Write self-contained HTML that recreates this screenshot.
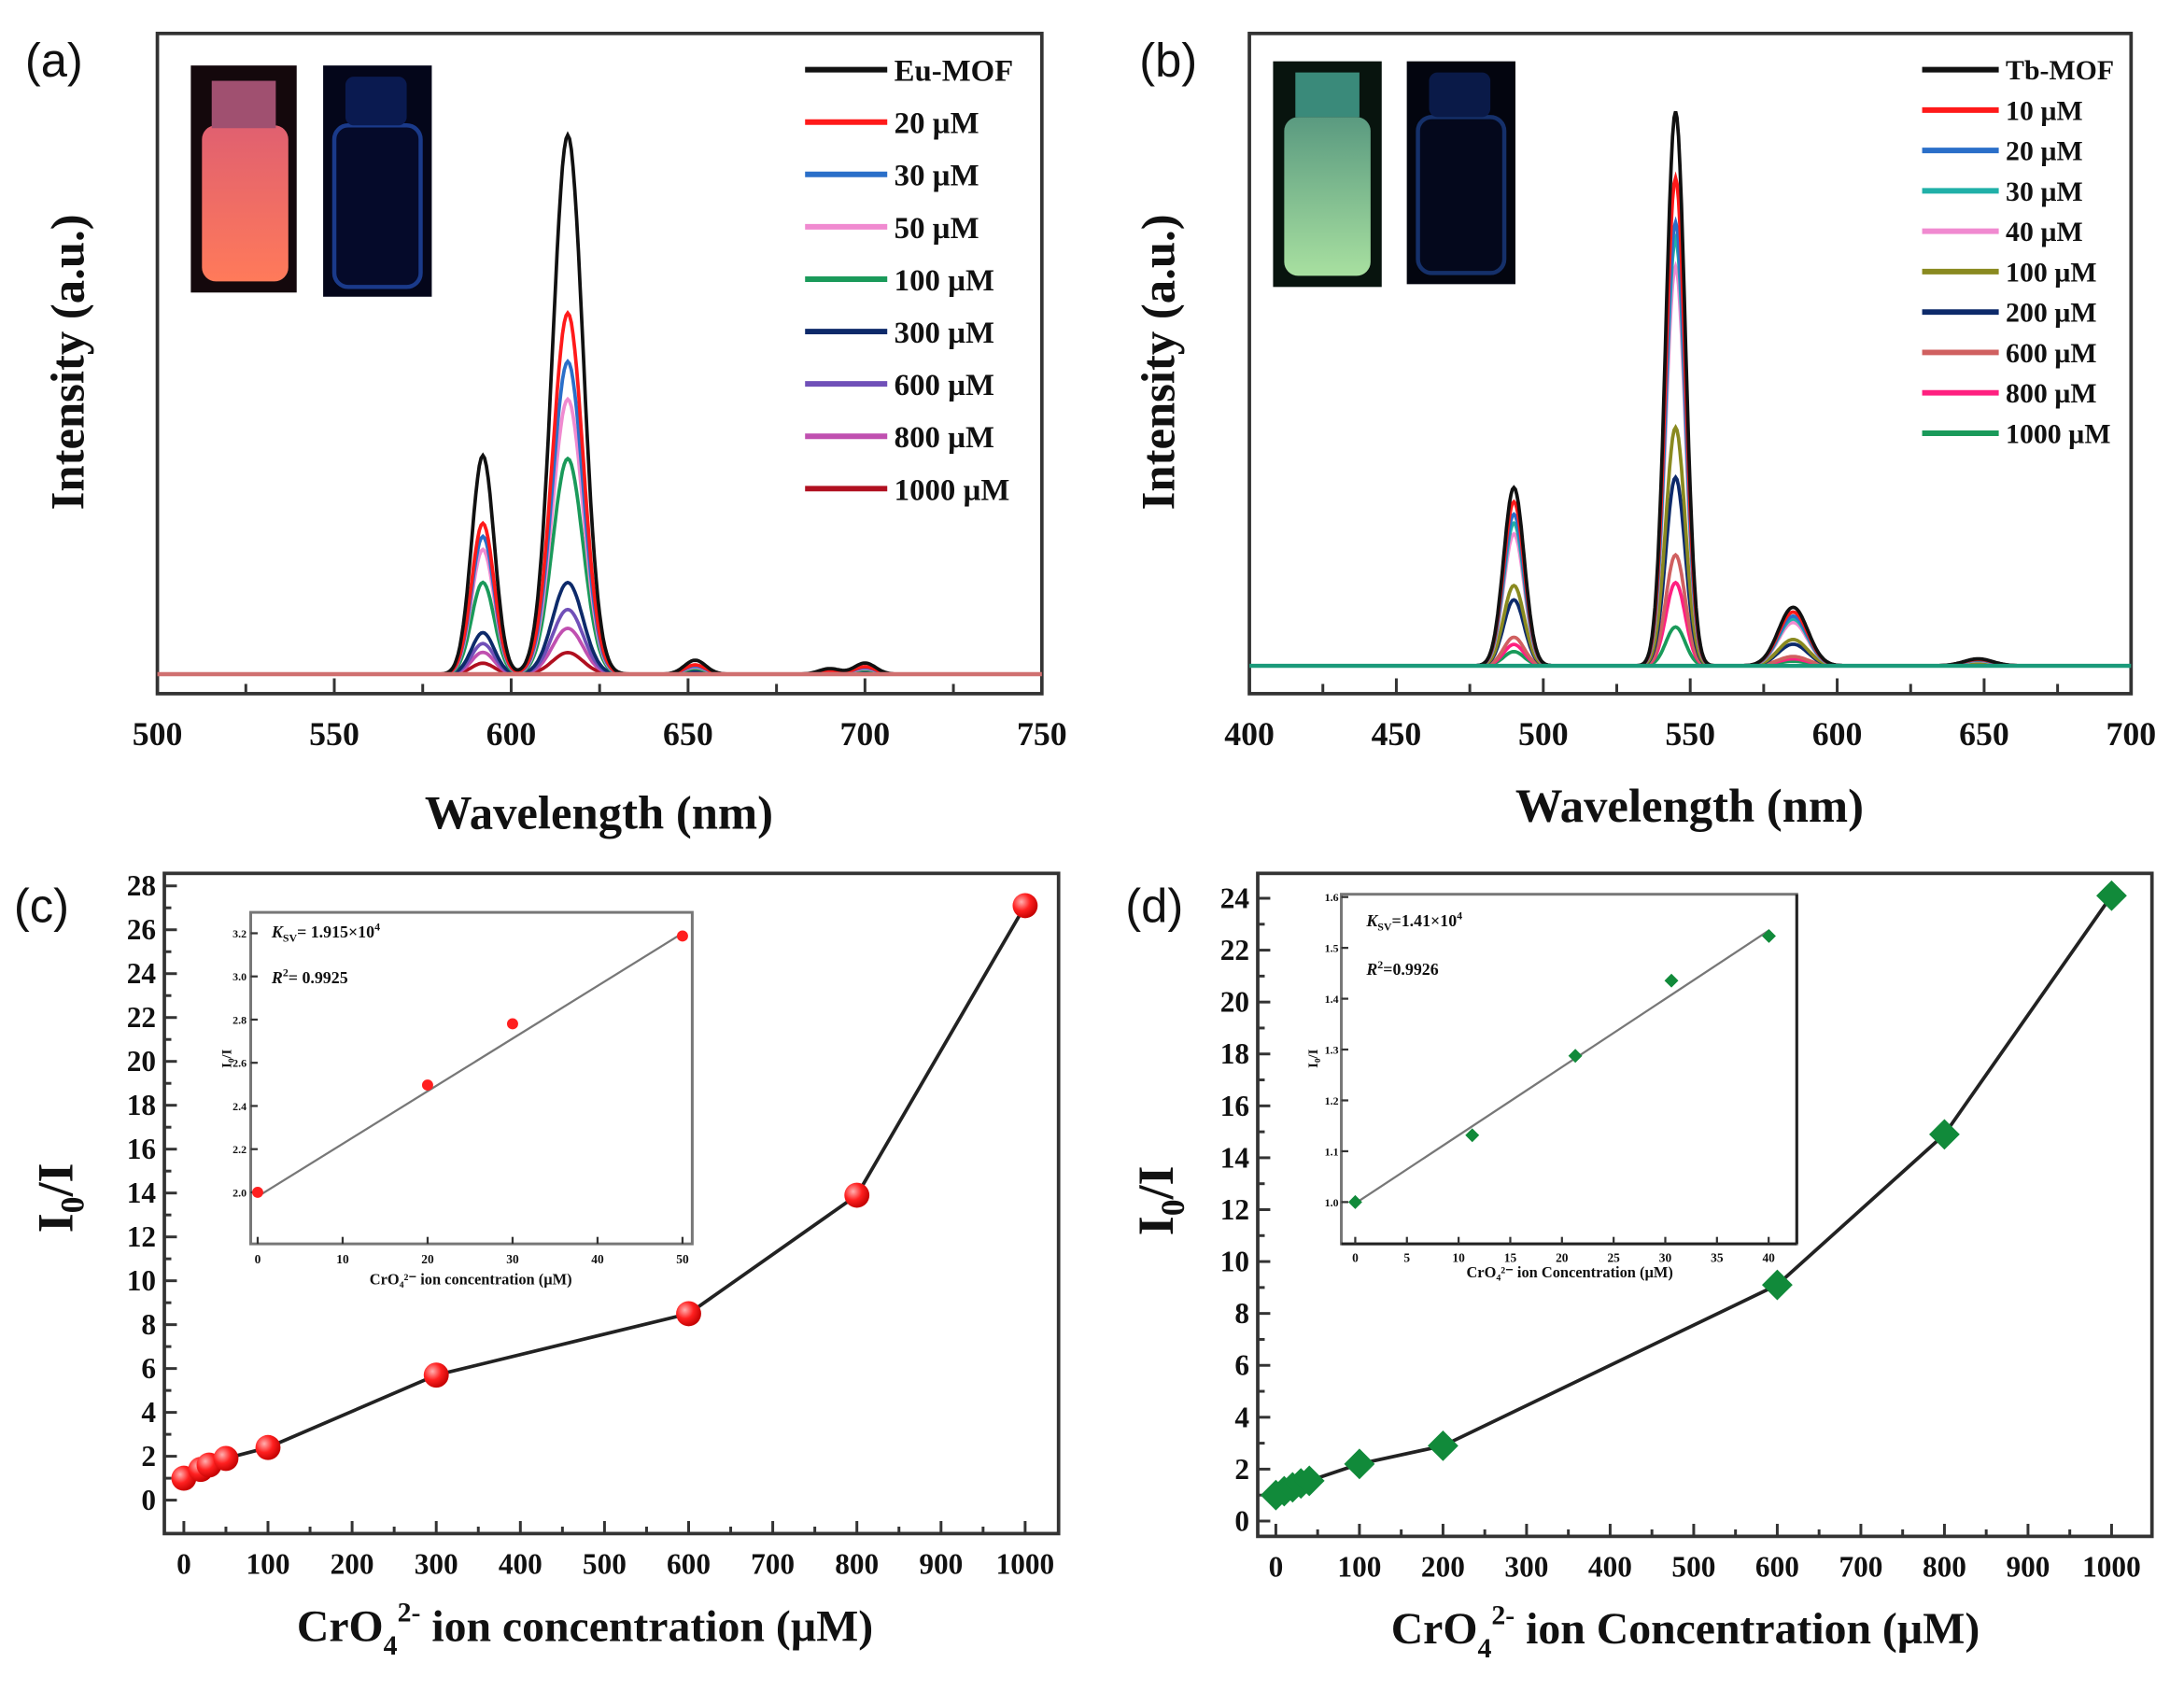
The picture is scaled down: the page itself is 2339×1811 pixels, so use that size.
<!DOCTYPE html>
<html><head><meta charset="utf-8"><style>
html,body{margin:0;padding:0;background:#fff;}
svg{display:block;}
text{font-family:"Liberation Serif",serif;font-weight:bold;fill:#111;}
.pl{font-family:"Liberation Sans",sans-serif;font-weight:normal;}
</style></head><body>
<svg id="s" width="2339" height="1811" viewBox="0 0 1568 1214" xmlns="http://www.w3.org/2000/svg">
<defs>
<radialGradient id="rb" cx="0.35" cy="0.35" r="0.7"><stop offset="0" stop-color="#ffb0b0"/><stop offset="0.5" stop-color="#ff2020"/><stop offset="1" stop-color="#c00000"/></radialGradient>
<linearGradient id="orb" x1="0" y1="0" x2="0" y2="1"><stop offset="0" stop-color="#e06070"/><stop offset="1" stop-color="#ff7a5a"/></linearGradient>
<linearGradient id="grb" x1="0" y1="0" x2="0" y2="1"><stop offset="0" stop-color="#5a9a80"/><stop offset="1" stop-color="#a8e0a0"/></linearGradient>
</defs>
<!-- Panel a -->
<text class="pl" x="18" y="55" font-size="34">(a)</text>
<rect x="113" y="24" width="635" height="474" fill="none" stroke="#333" stroke-width="2.5"/>
<rect x="137" y="47" width="76" height="163" fill="#14080c"/>
<rect x="145" y="90" width="62" height="112" rx="10" fill="url(#orb)"/>
<rect x="152" y="58" width="46" height="34" fill="#a05070"/>
<rect x="232" y="47" width="78" height="166" fill="#04061a"/>
<rect x="240" y="90" width="62" height="116" rx="10" fill="#050a2a" stroke="#1a3a8a" stroke-width="3"/>
<rect x="248" y="55" width="44" height="35" rx="6" fill="#0a1a50"/>
<g id="ga"></g>
<g id="la"></g>
<text x="60" y="260" font-size="34" text-anchor="middle" transform="rotate(-90 60 260)">Intensity (a.u.)</text>
<text x="430" y="595" font-size="34" text-anchor="middle">Wavelength (nm)</text>
<!-- Panel b -->
<text class="pl" x="818" y="55" font-size="34">(b)</text>
<rect x="897" y="24" width="633" height="474" fill="none" stroke="#333" stroke-width="2.5"/>
<rect x="914" y="44" width="78" height="162" fill="#08140e"/>
<rect x="922" y="84" width="62" height="114" rx="10" fill="url(#grb)"/>
<rect x="930" y="52" width="46" height="32" fill="#3a8a7a"/>
<rect x="1010" y="44" width="78" height="160" fill="#03050f"/>
<rect x="1018" y="84" width="62" height="112" rx="10" fill="#04081c" stroke="#15306a" stroke-width="3"/>
<rect x="1026" y="52" width="44" height="32" rx="6" fill="#0a1a48"/>
<g id="gb"></g>
<g id="lb"></g>
<text x="843" y="260" font-size="34" text-anchor="middle" transform="rotate(-90 843 260)">Intensity (a.u.)</text>
<text x="1213" y="590" font-size="34" text-anchor="middle">Wavelength (nm)</text>
<!-- Panel c -->
<text class="pl" x="10" y="662" font-size="34">(c)</text>
<rect x="118" y="627" width="642" height="474" fill="none" stroke="#333" stroke-width="2.5"/>
<g id="gc"></g>
<text x="52" y="860" font-size="36" text-anchor="middle" transform="rotate(-90 52 860)">I<tspan font-size="24" dy="8">0</tspan><tspan dy="-8">/I</tspan></text>
<text x="420" y="1178" font-size="32" text-anchor="middle">CrO<tspan font-size="20" dy="10">4</tspan><tspan font-size="20" dy="-24">2-</tspan><tspan dy="14"> ion concentration (µM)</tspan></text>
<!-- Panel d -->
<text class="pl" x="808" y="662" font-size="34">(d)</text>
<rect x="903" y="627" width="642" height="476" fill="none" stroke="#333" stroke-width="2.5"/>
<g id="gd"></g>
<text x="842" y="862" font-size="36" text-anchor="middle" transform="rotate(-90 842 862)">I<tspan font-size="24" dy="8">0</tspan><tspan dy="-8">/I</tspan></text>
<text x="1210" y="1180" font-size="32" text-anchor="middle">CrO<tspan font-size="20" dy="10">4</tspan><tspan font-size="20" dy="-24">2-</tspan><tspan dy="14"> ion Concentration (µM)</tspan></text>
</svg>
<script>
var NS="http://www.w3.org/2000/svg";
function el(p,t,a,txt){var e=document.createElementNS(NS,t);for(var k in a)e.setAttribute(k,a[k]);if(txt!==undefined)e.textContent=txt;p.appendChild(e);return e;}
function G(id){return document.getElementById(id);}
function g(x,m,s){return Math.exp(-(x-m)*(x-m)/(2*s*s));}
// Panel a
(function(){
var ga=G("ga"),la=G("la");
var X=function(n){return 113+(n-500)*127/50;},B=484;
var ser=[["#111",1,1,"Eu-MOF"],["#ff1a1a",0.67,0.69,"20 µM"],["#2a6fc9",0.58,0.63,"30 µM"],["#f08ad0",0.51,0.57,"50 µM"],["#1a9a5a",0.40,0.42,"100 µM"],["#0d2a6a",0.17,0.19,"300 µM"],["#7050b8",0.12,0.14,"600 µM"],["#c050b0",0.085,0.10,"800 µM"],["#b01020",0.04,0.05,"1000 µM"]];
for(var i=ser.length-1;i>=0;i--){var s=ser[i],d="";
for(var n=500;n<=750;n+=0.5){var y=B-(387*s[1]*g(n,616,4.3)+157*s[2]*g(n,592,3.2)+10*s[1]*g(n,652,3)+4*s[1]*g(n,690,3)+8*s[1]*g(n,700,3));d+=(n==500?"M":"L")+X(n).toFixed(1)+" "+y.toFixed(1);}
el(ga,"path",{d:d,fill:"none",stroke:s[0],"stroke-width":2.5});}
el(ga,"line",{x1:113,y1:B,x2:748,y2:B,stroke:"#d07070","stroke-width":3});
for(var i=0;i<ser.length;i++){var y=50+i*37.6;el(la,"line",{x1:578,y1:y,x2:637,y2:y,stroke:ser[i][0],"stroke-width":4});el(la,"text",{x:642,y:y+8,"font-size":22},ser[i][3]);}
for(var n=500;n<=750;n+=25){var x=X(n);el(ga,"line",{x1:x,y1:498,x2:x,y2:n%50?491:487,stroke:"#333","stroke-width":2});if(n%50==0)el(ga,"text",{x:x,y:535,"font-size":24,"text-anchor":"middle"},n);}
})();
// Panel b
(function(){
var gb=G("gb"),lb=G("lb");
var X=function(n){return 897+(n-400)*105.5/50},B=478;
var ser=[["#111",1,1,"Tb-MOF"],["#ff1a1a",0.88,0.92,"10 µM"],["#2a6fc9",0.80,0.85,"20 µM"],["#20b0a8",0.77,0.80,"30 µM"],["#f08ad0",0.72,0.74,"40 µM"],["#8a8a20",0.43,0.45,"100 µM"],["#0d2a6a",0.34,0.37,"200 µM"],["#d06060",0.20,0.16,"600 µM"],["#ff2080",0.15,0.12,"800 µM"],["#1a9a5a",0.07,0.08,"1000 µM"]];
for(var i=ser.length-1;i>=0;i--){var s=ser[i],d="";
for(var n=400;n<=700;n+=0.5){var y=B-(398*s[1]*g(n,545,3.3)+128*s[2]*g(n,490,3.5)+42*s[2]*g(n,585,5)+5*s[2]*g(n,648,5));d+=(n==400?"M":"L")+X(n).toFixed(1)+" "+y.toFixed(1);}
el(gb,"path",{d:d,fill:"none",stroke:s[0],"stroke-width":2.5});}
el(gb,"line",{x1:897,y1:B,x2:1530,y2:B,stroke:"#1a9a7a","stroke-width":3});
for(var i=0;i<ser.length;i++){var y=50+i*29;el(lb,"line",{x1:1380,y1:y,x2:1435,y2:y,stroke:ser[i][0],"stroke-width":4});el(lb,"text",{x:1440,y:y+7,"font-size":20},ser[i][3]);}
for(var n=400;n<=700;n+=25){var x=X(n);el(gb,"line",{x1:x,y1:498,x2:x,y2:n%50?491:487,stroke:"#333","stroke-width":2});if(n%50==0)el(gb,"text",{x:x,y:535,"font-size":24,"text-anchor":"middle"},n);}
})();
// Panel c
(function(){
var gc=G("gc");var X=function(v){return 132+v*0.604},Y=function(v){return 1077-v*15.75};
for(var v=0;v<=1000;v+=50){var x=X(v);el(gc,"line",{x1:x,y1:1101,x2:x,y2:v%100?1096:1092,stroke:"#333","stroke-width":2});if(v%100==0)el(gc,"text",{x:x,y:1130,"font-size":21,"text-anchor":"middle"},v);}
for(var v=0;v<=28;v+=1){var y=Y(v);el(gc,"line",{x1:118,y1:y,x2:v%2?123:127,y2:y,stroke:"#333","stroke-width":2});if(v%2==0)el(gc,"text",{x:112,y:y+7,"font-size":21,"text-anchor":"end"},v);}
var D=[[0,1],[20,1.4],[30,1.6],[50,1.9],[100,2.4],[300,5.7],[600,8.5],[800,13.9],[1000,27.1]],d="";
D.forEach(function(p,i){d+=(i?"L":"M")+X(p[0])+" "+Y(p[1]);});
el(gc,"path",{d:d,fill:"none",stroke:"#222","stroke-width":2.5});
D.forEach(function(p){el(gc,"circle",{cx:X(p[0]),cy:Y(p[1]),r:9,fill:"url(#rb)"});});
// inset
el(gc,"rect",{x:180,y:655,width:317,height:238,fill:"#fff",stroke:"#777","stroke-width":2});
var ix=[0,10,20,30,40,50];ix.forEach(function(v){var x=185+v*6.1;el(gc,"line",{x1:x,y1:893,x2:x,y2:888,stroke:"#333","stroke-width":1.5});el(gc,"text",{x:x,y:907,"font-size":9,"text-anchor":"middle"},v);});
for(var k=0;k<=6;k++){var y=856-k*31;el(gc,"line",{x1:180,y1:y,x2:185,y2:y,stroke:"#333","stroke-width":1.5});el(gc,"text",{x:177,y:y+3,"font-size":8,"text-anchor":"end"},(2.0+k*0.2).toFixed(1));}
el(gc,"line",{x1:185,y1:859,x2:490,y2:670,stroke:"#777","stroke-width":1.5});
[[185,856],[307,779],[368,735],[490,672]].forEach(function(p){el(gc,"circle",{cx:p[0],cy:p[1],r:4,fill:"#ff2020"});});
el(gc,"text",{x:195,y:673,"font-size":12},"K").innerHTML='<tspan font-style="italic">K</tspan><tspan font-size="8" dy="3">SV</tspan><tspan dy="-3">= 1.915×10</tspan><tspan font-size="8" dy="-5">4</tspan>';
el(gc,"text",{x:195,y:706,"font-size":12}).innerHTML='<tspan font-style="italic">R</tspan><tspan font-size="8" dy="-5">2</tspan><tspan dy="5">= 0.9925</tspan>';
el(gc,"text",{x:166,y:760,"font-size":10,"text-anchor":"middle",transform:"rotate(-90 166 760)"},"I₀/I");
el(gc,"text",{x:338,y:922,"font-size":11,"text-anchor":"middle"},"CrO₄²⁻ ion concentration (µM)");
})();
// Panel d
(function(){
var gd=G("gd");var X=function(v){return 916+v*0.6},Y=function(v){return 1092-v*18.63};
for(var v=0;v<=1000;v+=50){var x=X(v);el(gd,"line",{x1:x,y1:1103,x2:x,y2:v%100?1098:1094,stroke:"#333","stroke-width":2});if(v%100==0)el(gd,"text",{x:x,y:1132,"font-size":21,"text-anchor":"middle"},v);}
for(var v=0;v<=24;v+=1){var y=Y(v);el(gd,"line",{x1:903,y1:y,x2:v%2?908:912,y2:y,stroke:"#333","stroke-width":2});if(v%2==0)el(gd,"text",{x:897,y:y+7,"font-size":21,"text-anchor":"end"},v);}
var D=[[0,1],[10,1.15],[20,1.3],[30,1.45],[40,1.55],[100,2.2],[200,2.9],[600,9.1],[800,14.9],[1000,24.1]],d="";
D.forEach(function(p,i){d+=(i?"L":"M")+X(p[0])+" "+Y(p[1]);});
el(gd,"path",{d:d,fill:"none",stroke:"#222","stroke-width":2.5});
D.forEach(function(p){var x=X(p[0]),y=Y(p[1]);el(gd,"polygon",{points:(x)+","+(y-11)+" "+(x+11)+","+y+" "+x+","+(y+11)+" "+(x-11)+","+y,fill:"#118a3a"});});
el(gd,"rect",{x:963,y:642,width:327,height:251,fill:"#fff",stroke:"#777","stroke-width":2});
el(gd,"line",{x1:1290,y1:642,x2:1290,y2:893,stroke:"#222","stroke-width":2});
el(gd,"line",{x1:963,y1:893,x2:1290,y2:893,stroke:"#222","stroke-width":2});
for(var k=0;k<=8;k++){var x=973+k*37.1;el(gd,"line",{x1:x,y1:893,x2:x,y2:888,stroke:"#333","stroke-width":1.5});el(gd,"text",{x:x,y:906,"font-size":9,"text-anchor":"middle"},k*5);}
for(var k=0;k<=6;k++){var y=863-k*36.5;el(gd,"line",{x1:963,y1:y,x2:968,y2:y,stroke:"#333","stroke-width":1.5});el(gd,"text",{x:961,y:y+3,"font-size":8,"text-anchor":"end"},(1.0+k*0.1).toFixed(1));}
el(gd,"line",{x1:973,y1:864,x2:1270,y2:668,stroke:"#777","stroke-width":1.5});
[[973,863],[1057,815],[1131,758],[1200,704],[1270,672]].forEach(function(p){var x=p[0],y=p[1];el(gd,"polygon",{points:x+","+(y-5)+" "+(x+5)+","+y+" "+x+","+(y+5)+" "+(x-5)+","+y,fill:"#118a3a"});});
el(gd,"text",{x:981,y:665,"font-size":12}).innerHTML='<tspan font-style="italic">K</tspan><tspan font-size="8" dy="3">SV</tspan><tspan dy="-3">=1.41×10</tspan><tspan font-size="8" dy="-5">4</tspan>';
el(gd,"text",{x:981,y:700,"font-size":12}).innerHTML='<tspan font-style="italic">R</tspan><tspan font-size="8" dy="-5">2</tspan><tspan dy="5">=0.9926</tspan>';
el(gd,"text",{x:946,y:760,"font-size":10,"text-anchor":"middle",transform:"rotate(-90 946 760)"},"I₀/I");
el(gd,"text",{x:1127,y:917,"font-size":11,"text-anchor":"middle"},"CrO₄²⁻ ion Concentration (µM)");
})();
</script>
</body></html>
